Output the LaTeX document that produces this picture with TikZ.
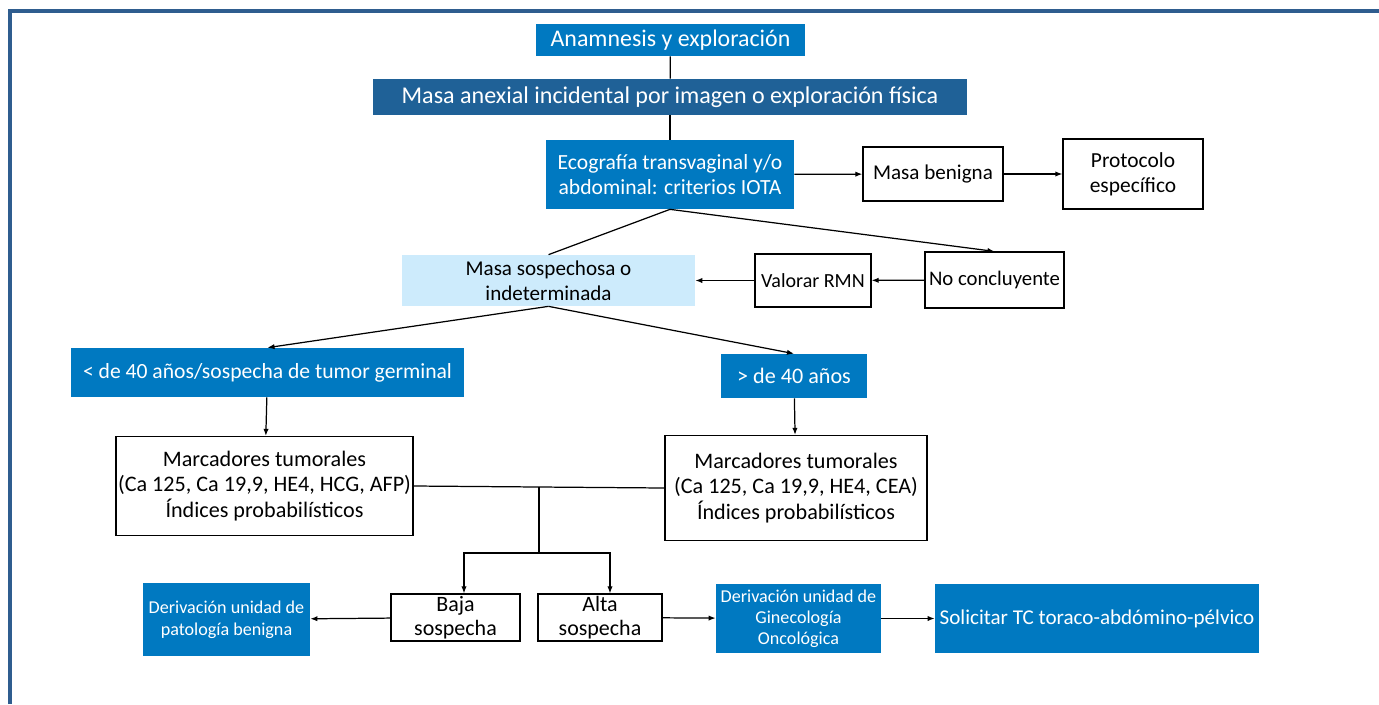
\documentclass[tikz,border=0pt]{standalone}
\usepackage{fontspec}
\setmainfont{Carlito}
\usetikzlibrary{arrows.meta,calc}
\definecolor{azul}{HTML}{0079C1}
\definecolor{azuloscuro}{HTML}{1F6197}
\definecolor{azulclaro}{HTML}{CDEBFC}
\definecolor{marco}{HTML}{2F5D8F}
\begin{document}
\begin{tikzpicture}[x=0.02cm,y=-0.02cm,
    caja/.style={inner sep=0pt,align=center,font=\fontsize{12}{14}\selectfont},
    azulcaja/.style={caja,fill=azul,text=white},
    blanca/.style={caja,draw=black,line width=0.7pt,fill=white},
    flecha/.style={-{Latex[length=4pt,width=3pt]},line width=0.7pt},
    linea/.style={line width=0.7pt}]
    \useasboundingbox (0,0) rectangle (1379,704);
    \draw[marco,line width=1.8pt] (10,704) -- (10,11) -- (1379,11);

    \node[azulcaja,minimum width=5.38cm,minimum height=0.64cm,font=\fontsize{13.6}{16}\selectfont] (anam) at (670.5,40) {Anamnesis y exploración};
    \node[caja,fill=azuloscuro,text=white,minimum width=11.88cm,minimum height=0.72cm,font=\fontsize{13.7}{16}\selectfont] (masa) at (670,97) {Masa anexial incidental por imagen o exploración física};
    \node[azulcaja,minimum width=4.96cm,minimum height=1.38cm,font=\fontsize{12.3}{14.3}\selectfont] (eco) at (670,174.5) {Ecografía transvaginal y/o\\abdominal: criterios IOTA};
    \node[blanca,minimum width=2.8cm,minimum height=1.08cm] (beni) at (933,174) {Masa benigna};
    \node[blanca,minimum width=2.8cm,minimum height=1.4cm,font=\fontsize{12.2}{14.3}\selectfont] (proto) at (1133,174) {Protocolo\\específico};

    \node[caja,fill=azulclaro,minimum width=5.86cm,minimum height=1.02cm] (sosp) at (548.5,280.5) {Masa sospechosa o\\indeterminada};
    \node[blanca,minimum width=2.32cm,minimum height=1.06cm,font=\fontsize{11.4}{13}\selectfont] (rmn) at (813,280.5) {Valorar RMN};
    \node[blanca,minimum width=2.78cm,minimum height=1.12cm,font=\fontsize{11.8}{14}\selectfont] (nocon) at (994.5,280) {No concluyente};

    \node[azulcaja,minimum width=7.86cm,minimum height=0.98cm,font=\fontsize{12.3}{14}\selectfont] (menor) at (267.5,372.5) {< de 40 años/sospecha de tumor germinal};
    \node[azulcaja,minimum width=2.92cm,minimum height=0.88cm,font=\fontsize{12.6}{14}\selectfont] (mayor) at (794,376) {> de 40 años};

    \node[blanca,minimum width=5.94cm,minimum height=1.98cm,font=\fontsize{12.6}{14.4}\selectfont] (marcI) at (264.5,486) {Marcadores tumorales\\(Ca 125, Ca 19,9, HE4, HCG, AFP)\\Índices probabilísticos};
    \node[blanca,minimum width=5.24cm,minimum height=2.1cm,font=\fontsize{12.6}{14.4}\selectfont] (marcD) at (796,488) {Marcadores tumorales\\(Ca 125, Ca 19,9, HE4, CEA)\\Índices probabilísticos};

    \node[azulcaja,minimum width=3.34cm,minimum height=1.46cm,font=\fontsize{10.3}{12.5}\selectfont] (benig) at (226.5,619.5) {Derivación unidad de\\patología benigna};
    \node[blanca,minimum width=2.58cm,minimum height=0.94cm,font=\fontsize{12.5}{13.5}\selectfont] (baja) at (455.5,617.5) {Baja\\sospecha};
    \node[blanca,minimum width=2.48cm,minimum height=0.94cm,font=\fontsize{12.5}{13.5}\selectfont] (alta) at (600,617.5) {Alta\\sospecha};
    \node[azulcaja,minimum width=3.3cm,minimum height=1.38cm,font=\fontsize{10.3}{12}\selectfont] (gine) at (798.5,618.5) {Derivación unidad de\\Ginecología\\Oncológica};
    \node[azulcaja,minimum width=6.48cm,minimum height=1.38cm,font=\fontsize{12}{15}\selectfont] (tc) at (1097,618.5) {Solicitar TC toraco-abdómino-pélvico};

    \draw[linea] (anam) -- (masa);
    \draw[linea] (masa) -- (eco);
    \draw[flecha] (eco) -- (beni);
    \draw[flecha] (beni) -- (proto);
    \draw[linea] (eco.south) -- (sosp.north);
    \draw[flecha] (eco.south) -- (nocon.north);
    \draw[flecha] (nocon) -- (rmn);
    \draw[flecha] (rmn) -- (sosp);
    \draw[flecha] (sosp.south) -- (menor.north);
    \draw[flecha] (sosp.south) -- (mayor.north);
    \draw[flecha] (menor) -- (marcI);
    \draw[flecha] (mayor) -- (marcD);

    \coordinate (bus) at ($(marcI.east)!0.5!(marcD.west)$);
    \coordinate (reparto) at ($(bus)+(0,66)$);
    \draw[linea] (marcI.east) -- (marcD.west);
    \draw[linea] (bus) -- (reparto);
    \draw[flecha] (reparto) -| ([xshift=0.17cm]baja.north);
    \draw[flecha] (reparto) -| ([xshift=0.2cm]alta.north);

    \draw[flecha] (baja) -- (benig);
    \draw[flecha] (alta) -- (gine);
    \draw[flecha] (gine) -- (tc);
\end{tikzpicture}
\end{document}
